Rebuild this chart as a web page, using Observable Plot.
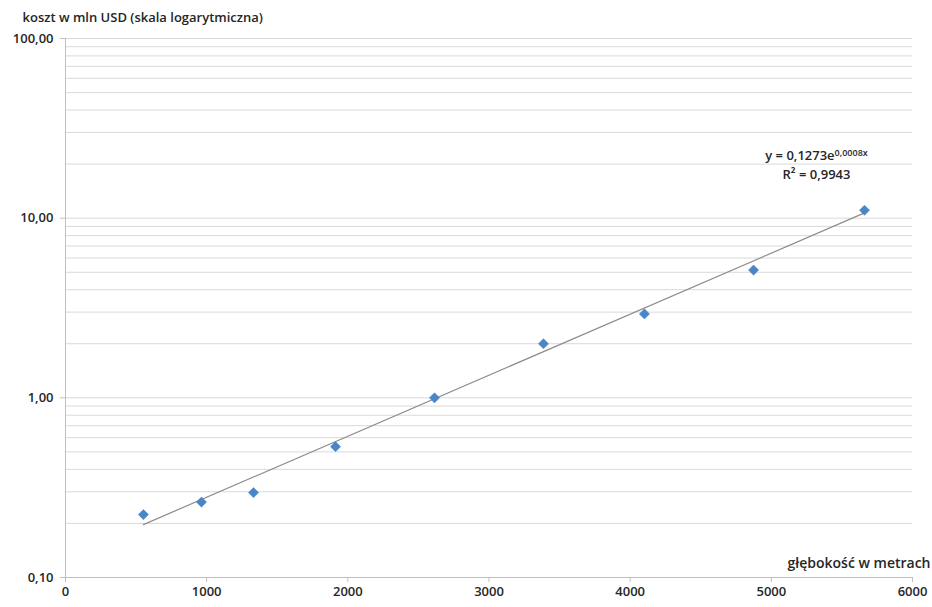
<!DOCTYPE html>
<html>
<head>
<meta charset="utf-8">
<script src="https://cdn.jsdelivr.net/npm/d3@7"></script>
<script src="https://cdn.jsdelivr.net/npm/@observablehq/plot@0.6"></script>
<style>
  html, body { margin: 0; padding: 0; background: #ffffff; }
</style>
</head>
<body>
<div id="chart"></div>
<script>
// Data
const depth = [552, 963, 1332, 1913, 2614, 3386, 4101, 4874, 5660];
const cost  = [0.224, 0.263, 0.297, 0.535, 1.0, 2.0, 2.93, 5.14, 11.07];

// Trendline endpoints (exponential fit)
const trendDepth = [552, 5660];
const trendCost  = [0.197, 10.7];

// Tick labels / gridlines
const xTicks = [0, 1000, 2000, 3000, 4000, 5000, 6000];
const yTicks = [0.1, 1, 10, 100];
const yGrid = [0.2,0.3,0.4,0.5,0.6,0.7,0.8,0.9,1,2,3,4,5,6,7,8,9,10,20,30,40,50,60,70,80,90,100];

const titleText = "koszt w mln USD (skala logarytmiczna)";
const xLabelText = "głębokość w metrach";
const eqMain = "y = 0,1273e";
const eqSup = "0,0008x";
const r2Text = "R² = 0,9943";
const eqPos = {x: 5320, y: 22.1};
const r2Pos = {x: 5320, y: 17.5};

const points = depth.map((d, i) => ({depth: d, cost: cost[i]}));
const trend = trendDepth.map((d, i) => ({depth: d, cost: trendCost[i]}));

const fmt = d => d.toFixed(2).replace(".", ",");

const chart = Plot.plot({
  width: 932,
  height: 607,
  marginLeft: 65,
  marginRight: 20,
  marginTop: 38,
  marginBottom: 30,
  style: {
    fontFamily: "'Open Sans', sans-serif",
    fontSize: "13px",
    fontWeight: 600,
    color: "#262626",
    background: "#ffffff"
  },
  x: {domain: [0, 6000]},
  y: {type: "log", domain: [0.1, 100]},
  marks: [
    Plot.ruleY(yGrid, {stroke: "#d9d9d9", strokeWidth: 1}),
    Plot.ruleX([0], {stroke: "#bfbfbf"}),
    Plot.ruleY([0.1], {stroke: "#bfbfbf"}),
    Plot.axisY({ticks: yTicks, tickFormat: fmt, tickSize: 5, tickPadding: 7, stroke: "#bfbfbf", fill: "#262626", label: null}),
    Plot.axisX({ticks: xTicks, tickFormat: d => String(d), tickSize: 5, tickPadding: 4, stroke: "#bfbfbf", fill: "#262626", label: null}),
    Plot.line(trend, {x: "depth", y: "cost", stroke: "#8c8c8c", strokeWidth: 1.2}),
    Plot.dot(points, {x: "depth", y: "cost", symbol: "diamond2", r: 4.6, fill: "#4a86c5", stroke: "#4a86c5", strokeWidth: 0.5}),
    Plot.text([titleText], {frameAnchor: "top-left", dx: -43, dy: -21, textAnchor: "start", lineAnchor: "middle", fill: "#262626"}),
    Plot.text([xLabelText], {frameAnchor: "bottom-right", dx: 18, dy: -14, textAnchor: "end", lineAnchor: "middle", fill: "#262626", fontSize: 14}),
    Plot.text([eqMain], {x: () => eqPos.x, y: () => eqPos.y, textAnchor: "middle", lineAnchor: "middle", fill: "#262626"}),
    Plot.text([r2Text], {x: () => r2Pos.x, y: () => r2Pos.y, textAnchor: "middle", lineAnchor: "middle", fill: "#262626"})
  ]
});

d3.select(chart).selectAll("text").filter(function() { return this.textContent === eqMain; })
  .append("tspan")
  .attr("dy", "-0.45em")
  .attr("font-size", "9px")
  .text(eqSup);

document.getElementById("chart").appendChild(chart);
</script>
</body>
</html>
